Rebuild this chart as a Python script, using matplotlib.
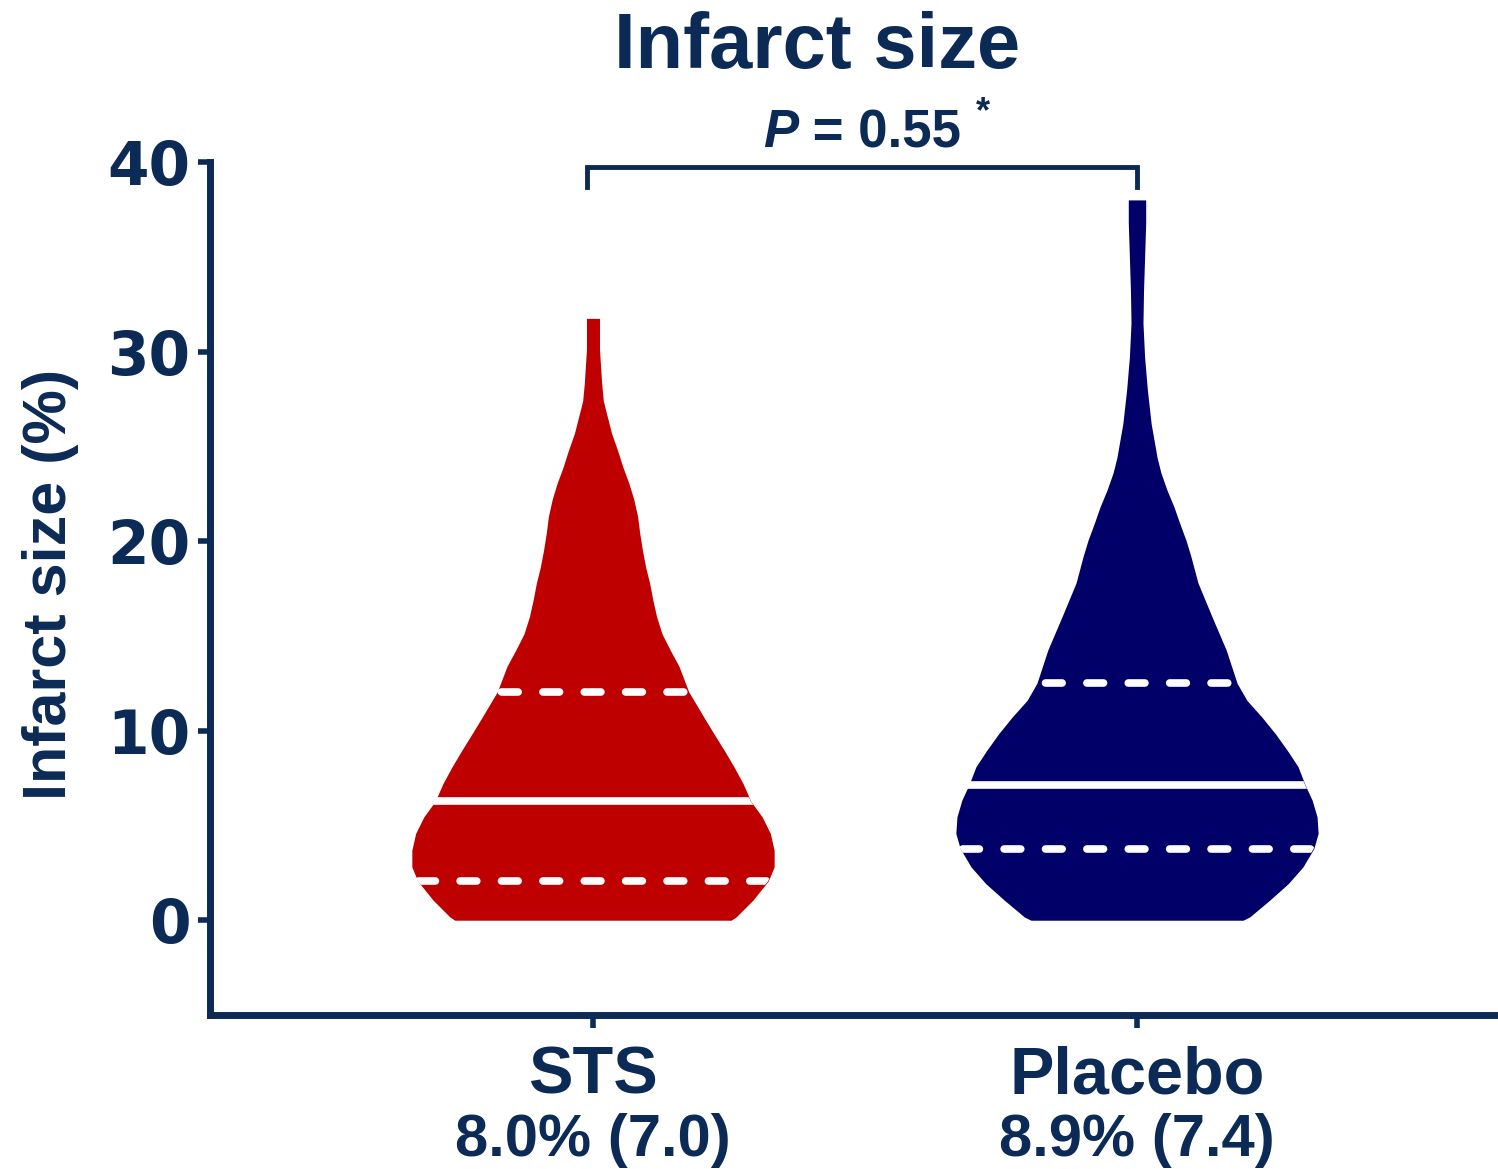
import matplotlib
matplotlib.use("Agg")
import matplotlib.pyplot as plt
from matplotlib.transforms import blended_transform_factory

NAVY = "#0b2a56"

groups = ["STS", "Placebo"]
summaries = ["8.0% (7.0)", "8.9% (7.4)"]
colors = ["#be0000", "#000068"]

# violin outlines: infarct size (%) and half width (category units)
sts_levels = [0, 0.17, 1.06, 2.06, 2.81, 3.69, 4.58, 5.45, 6.28, 7.2, 8.1, 8.97,
              9.85, 10.7, 12.05, 13.4, 14.25, 15.1, 16.0, 16.9, 17.8, 18.6, 19.5,
              20.4, 21.3, 22.2, 23.05, 23.9, 24.8, 25.7, 26.6, 27.4, 28.3, 30.1, 31.75]
sts_half = [0.254, 0.263, 0.294, 0.322, 0.333, 0.333, 0.326, 0.311, 0.290, 0.276,
            0.259, 0.241, 0.222, 0.204, 0.176, 0.158, 0.142, 0.127, 0.117, 0.110,
            0.104, 0.097, 0.091, 0.086, 0.082, 0.075, 0.066, 0.055, 0.045, 0.034,
            0.026, 0.019, 0.016, 0.012, 0.012]

placebo_levels = [0, 0.17, 1.06, 1.93, 2.81, 3.78, 4.58, 5.45, 6.33, 7.14, 8.1, 8.97,
                  9.85, 10.7, 11.6, 12.5, 14.25, 16.0, 17.8, 19.2, 20.05, 20.9, 21.8,
                  22.7, 23.6, 24.4, 26.2, 28.0, 29.7, 31.5, 33.2, 35.0, 36.8, 38.0]
placebo_half = [0.195, 0.207, 0.244, 0.278, 0.305, 0.325, 0.333, 0.331, 0.322, 0.309,
                0.296, 0.276, 0.254, 0.230, 0.202, 0.184, 0.164, 0.138, 0.112, 0.099,
                0.090, 0.079, 0.068, 0.055, 0.044, 0.037, 0.026, 0.019, 0.014, 0.011,
                0.012, 0.014, 0.016, 0.016]

# lower quartile, median, upper quartile
sts_quartiles = [2.06, 6.28, 12.05]
placebo_quartiles = [3.78, 7.14, 12.5]

p_text = "0.55"
yticks = [0, 10, 20, 30, 40]

plt.rcParams["font.family"] = ["Liberation Sans", "DejaVu Sans"]
plt.rcParams["lines.scale_dashes"] = False

fig = plt.figure(figsize=(14.98, 11.69), dpi=100)
ax = fig.add_axes([0.14019, 0.13174, 1 - 0.14019, 0.86142 - 0.13174])
ax.set_xlim(-0.704, 1.6636)
ax.set_ylim(-5, 40)

# spines / ticks
for side in ["top", "right"]:
    ax.spines[side].set_visible(False)
for side in ["left", "bottom"]:
    ax.spines[side].set_linewidth(5)
    ax.spines[side].set_color(NAVY)
    ax.spines[side].set_capstyle("projecting")
ax.set_yticks(yticks)
ax.set_yticklabels([str(t) for t in yticks], fontfamily="DejaVu Sans",
                   fontweight="bold", fontsize=43, color=NAVY)
ax.set_xticks([0, 1])
ax.set_xticklabels(["", ""])
ax.tick_params(axis="both", direction="out", length=9, width=4, color=NAVY, pad=5)

px_per_unit = ax.transData.transform((1, 0))[0] - ax.transData.transform((0, 0))[0]
pt_per_unit = px_per_unit * 72 / fig.dpi

on, off = 12.0, 17.8
period = on + off
span = 0.4

profiles = [(sts_levels, sts_half, sts_quartiles),
            (placebo_levels, placebo_half, placebo_quartiles)]
for i, (levels, half, quarts) in enumerate(profiles):
    left = [i - h for h in half]
    right = [i + h for h in half]
    poly = ax.fill_betweenx(levels, left, right, color=colors[i], lw=0, zorder=2)
    clip = poly.get_paths()[0]
    d = span * pt_per_unit
    offset = (on / 2 - d) % period
    for k, q in enumerate(quarts):
        if k == 1:
            ln, = ax.plot([i - span, i + span], [q, q], color="white", lw=5.5,
                          solid_capstyle="butt", zorder=3)
        else:
            ln, = ax.plot([i - span, i + span], [q, q], color="white", lw=5.5,
                          ls=(offset, (on, off)), dash_capstyle="round", zorder=3)
        ln.set_clip_path(clip, ax.transData)

# significance bracket
ax.plot([-0.011, -0.011, 1.0, 1.0], [38.68, 39.74, 39.74, 38.68], color=NAVY,
        lw=3.5, clip_on=False, solid_joinstyle="miter")

# group labels below axis
tr = blended_transform_factory(ax.transData, fig.transFigure)
for i, g in enumerate(groups):
    ax.text(i, 0.0642, g, transform=tr, ha="center", va="baseline",
            fontsize=48, fontweight="bold", color=NAVY)
    ax.text(i, 0.0115, summaries[i], transform=tr, ha="center", va="baseline",
            fontsize=43, fontweight="bold", color=NAVY)

# titles
fig.text(0.5457, 0.9418, "Infarct size", ha="center", va="baseline",
         fontsize=56, fontweight="bold", color=NAVY)
fig.text(0.0441, 0.5004, "Infarct size (%)", rotation=90, rotation_mode="anchor",
         ha="center", va="baseline", fontsize=44, fontweight="bold", color=NAVY)

ptxt = fig.text(763 / 1498, 1 - 147 / 1169, "P", ha="left", va="baseline",
                fontsize=38, fontweight="bold", fontstyle="italic", color=NAVY)
ax.annotate(" = " + p_text, xy=(1, 0), xycoords=ptxt, ha="left", va="bottom",
            fontsize=38, fontweight="bold", color=NAVY, annotation_clip=False)
fig.text(983 / 1498, 1 - 122 / 1169, "*", ha="center", va="baseline",
         fontsize=26, fontweight="bold", color=NAVY)

fig.savefig("out.png", dpi=100)
